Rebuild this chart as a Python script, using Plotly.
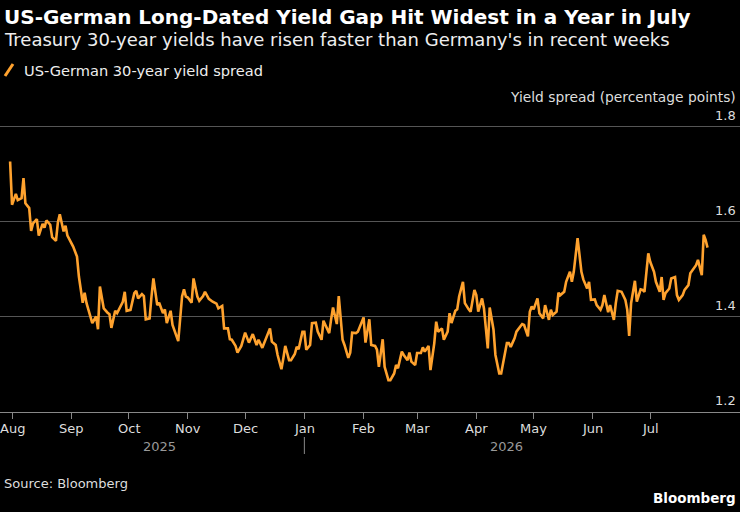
import plotly.graph_objects as go

# US-German 30-year yield spread, percentage points
dates = [
    "2025-07-31", "2025-08-01", "2025-08-03", "2025-08-04", "2025-08-06", "2025-08-07", "2025-08-08",
    "2025-08-10", "2025-08-11", "2025-08-12", "2025-08-14", "2025-08-15", "2025-08-17", "2025-08-18",
    "2025-08-19", "2025-08-21", "2025-08-22", "2025-08-24", "2025-08-25", "2025-08-26", "2025-08-28",
    "2025-08-29", "2025-08-30",
    "2025-09-02", "2025-09-04", "2025-09-05", "2025-09-07", "2025-09-08", "2025-09-09", "2025-09-11",
    "2025-09-12", "2025-09-14", "2025-09-15", "2025-09-16", "2025-09-18", "2025-09-20", "2025-09-21",
    "2025-09-22", "2025-09-24", "2025-09-25", "2025-09-27", "2025-09-28", "2025-09-29", "2025-09-30",
    "2025-10-02", "2025-10-04", "2025-10-05", "2025-10-06", "2025-10-08", "2025-10-09", "2025-10-10",
    "2025-10-12", "2025-10-13", "2025-10-14", "2025-10-16", "2025-10-17", "2025-10-19", "2025-10-20",
    "2025-10-21", "2025-10-23", "2025-10-24", "2025-10-27", "2025-10-29", "2025-10-30", "2025-10-31",
    "2025-11-01", "2025-11-03", "2025-11-04", "2025-11-06", "2025-11-07", "2025-11-09", "2025-11-10",
    "2025-11-12", "2025-11-13", "2025-11-14", "2025-11-16", "2025-11-17", "2025-11-19", "2025-11-20",
    "2025-11-22", "2025-11-23", "2025-11-24", "2025-11-26", "2025-11-27", "2025-11-29", "2025-11-30",
    "2025-12-01", "2025-12-03", "2025-12-04", "2025-12-05", "2025-12-07", "2025-12-08", "2025-12-10",
    "2025-12-12", "2025-12-14", "2025-12-15", "2025-12-17", "2025-12-18", "2025-12-20", "2025-12-21",
    "2025-12-22", "2025-12-24", "2025-12-25", "2025-12-27", "2025-12-28", "2025-12-29", "2025-12-31",
    "2026-01-01", "2026-01-02", "2026-01-04", "2026-01-05", "2026-01-07", "2026-01-08", "2026-01-10",
    "2026-01-11", "2026-01-12", "2026-01-14", "2026-01-15", "2026-01-16", "2026-01-18", "2026-01-19",
    "2026-01-21", "2026-01-22", "2026-01-24", "2026-01-25", "2026-01-26", "2026-01-28", "2026-01-29",
    "2026-01-30",
    "2026-02-01", "2026-02-02", "2026-02-04", "2026-02-05", "2026-02-07", "2026-02-08", "2026-02-09",
    "2026-02-11", "2026-02-12", "2026-02-14", "2026-02-15", "2026-02-17", "2026-02-18", "2026-02-19",
    "2026-02-21", "2026-02-22", "2026-02-24", "2026-02-25", "2026-02-26", "2026-02-28",
    "2026-03-01", "2026-03-03", "2026-03-04", "2026-03-05", "2026-03-07", "2026-03-08", "2026-03-10",
    "2026-03-11", "2026-03-12", "2026-03-14", "2026-03-15", "2026-03-17", "2026-03-18", "2026-03-19",
    "2026-03-21", "2026-03-22", "2026-03-23", "2026-03-25", "2026-03-26", "2026-03-28", "2026-03-29",
    "2026-03-31",
    "2026-04-01", "2026-04-02", "2026-04-04", "2026-04-05", "2026-04-07", "2026-04-08", "2026-04-10",
    "2026-04-11", "2026-04-13", "2026-04-14", "2026-04-15", "2026-04-17", "2026-04-18", "2026-04-19",
    "2026-04-21", "2026-04-22", "2026-04-24", "2026-04-25", "2026-04-26", "2026-04-28", "2026-04-29",
    "2026-04-30",
    "2026-05-01", "2026-05-03", "2026-05-04", "2026-05-06", "2026-05-07", "2026-05-09", "2026-05-10",
    "2026-05-11", "2026-05-13", "2026-05-14", "2026-05-15", "2026-05-17", "2026-05-18", "2026-05-20",
    "2026-05-21", "2026-05-22", "2026-05-24", "2026-05-26", "2026-05-27", "2026-05-29", "2026-05-30",
    "2026-05-31",
    "2026-06-02", "2026-06-03", "2026-06-05", "2026-06-06", "2026-06-07", "2026-06-09", "2026-06-10",
    "2026-06-12", "2026-06-13", "2026-06-14", "2026-06-16", "2026-06-18", "2026-06-19", "2026-06-20",
    "2026-06-21", "2026-06-23", "2026-06-24", "2026-06-26", "2026-06-27", "2026-06-28", "2026-06-30",
    "2026-07-01", "2026-07-03", "2026-07-04", "2026-07-06", "2026-07-07", "2026-07-08", "2026-07-09",
    "2026-07-11", "2026-07-12", "2026-07-14", "2026-07-15", "2026-07-16", "2026-07-18", "2026-07-19",
    "2026-07-21", "2026-07-22", "2026-07-23", "2026-07-25", "2026-07-26", "2026-07-28", "2026-07-29",
    "2026-07-30", "2026-07-31",
]

spread = [
    1.727, 1.636, 1.659, 1.646, 1.650, 1.692, 1.639, 1.629, 1.581, 1.597, 1.606, 1.571, 1.596, 1.588,
    1.603, 1.594, 1.568, 1.560, 1.599, 1.616, 1.580, 1.592, 1.571,
    1.548, 1.527, 1.485, 1.430, 1.451, 1.429, 1.401, 1.387, 1.401, 1.374, 1.464, 1.418, 1.409, 1.406,
    1.377, 1.413, 1.408, 1.422, 1.432, 1.453, 1.413,
    1.415, 1.450, 1.455, 1.439, 1.448, 1.444, 1.395, 1.397, 1.443, 1.481, 1.425, 1.430, 1.408, 1.416,
    1.387, 1.413, 1.383, 1.349, 1.443, 1.458, 1.443,
    1.441, 1.430, 1.481, 1.443, 1.434, 1.444, 1.453, 1.438, 1.434, 1.432, 1.428, 1.418, 1.423, 1.376,
    1.376, 1.353, 1.352, 1.339, 1.325, 1.339, 1.353,
    1.367, 1.346, 1.355, 1.364, 1.341, 1.352, 1.335, 1.357, 1.376, 1.348, 1.341, 1.320, 1.290, 1.313,
    1.339, 1.309, 1.309, 1.322, 1.337, 1.332, 1.369,
    1.369, 1.331, 1.341, 1.387, 1.388, 1.369, 1.352, 1.392, 1.383, 1.366, 1.395, 1.420, 1.385, 1.444,
    1.352, 1.341, 1.314, 1.325, 1.367, 1.366, 1.369, 1.380,
    1.399, 1.346, 1.395, 1.341, 1.339, 1.331, 1.295, 1.353, 1.295, 1.267, 1.267, 1.281, 1.299, 1.292,
    1.327, 1.320, 1.309, 1.325, 1.306, 1.299,
    1.324, 1.324, 1.336, 1.327, 1.339, 1.288, 1.345, 1.390, 1.369, 1.376, 1.352, 1.369, 1.408, 1.387,
    1.413, 1.416, 1.443, 1.474, 1.429, 1.416, 1.411, 1.457,
    1.446, 1.411, 1.439, 1.418, 1.334, 1.420, 1.373, 1.320, 1.281, 1.281, 1.303, 1.345, 1.345, 1.337,
    1.355, 1.369, 1.380, 1.385, 1.383, 1.359, 1.411, 1.422,
    1.416, 1.439, 1.408, 1.397, 1.425, 1.394, 1.415, 1.404, 1.411, 1.451, 1.446, 1.453, 1.474, 1.495,
    1.474, 1.495, 1.566, 1.495, 1.479, 1.460, 1.474, 1.436,
    1.437, 1.425, 1.415, 1.425, 1.446, 1.410, 1.425, 1.394, 1.429, 1.455, 1.453, 1.436, 1.415, 1.360,
    1.429, 1.476, 1.432, 1.458, 1.457, 1.453, 1.534,
    1.516, 1.495, 1.474, 1.453, 1.484, 1.436, 1.450, 1.460, 1.481, 1.484, 1.446, 1.436, 1.446, 1.457,
    1.467, 1.492, 1.497, 1.509, 1.520, 1.488, 1.573, 1.562, 1.546,
]

month_ticks = ["2025-08-01", "2025-09-01", "2025-10-01", "2025-11-01", "2025-12-01", "2026-01-01",
               "2026-02-01", "2026-03-01", "2026-04-01", "2026-05-01", "2026-06-01", "2026-07-01"]
month_labels = ["Aug", "Sep", "Oct", "Nov", "Dec", "Jan", "Feb", "Mar", "Apr", "May", "Jun", "Jul"]
years = ["2025", "2026"]
year_centers = ["2025-10-17", "2026-04-17"]
y_ticks = [1.2, 1.4, 1.6, 1.8]

ORANGE = "#FFA22E"
FONT = "DejaVu Sans"

fig = go.Figure()
fig.add_trace(go.Scatter(x=dates, y=spread, mode="lines",
                         line=dict(color=ORANGE, width=2.6),
                         name="US-German 30-year yield spread"))

fig.update_layout(
    width=740, height=512,
    margin=dict(l=0, r=0, t=124, b=100),
    paper_bgcolor="black", plot_bgcolor="black",
    showlegend=False,
    font=dict(family=FONT, color="#dddddd", size=13),
    xaxis=dict(
        type="date",
        range=["2025-07-25 17:00", "2026-08-17"],
        tickvals=month_ticks, showticklabels=False,
        ticks="outside", ticklen=6, tickcolor="#888888", tickwidth=1,
        showgrid=False, zeroline=False,
        showline=True, linecolor="#888888", linewidth=1,
    ),
    yaxis=dict(
        side="right",
        range=[1.2, 1.806],  # a little above 1.8 so the top gridline is drawn
        tickvals=y_ticks, showticklabels=False,
        showgrid=True, gridcolor="#555555", gridwidth=1,
        zeroline=False, showline=False, ticks="",
    ),
)


def py(pixel_y):
    # pixel row -> paper y (plot area spans rows 124..412)
    return (412 - pixel_y) / 288


# axis labels as annotations so the edge ones (Aug, 1.8) are not dropped
for m, lab in zip(month_ticks, month_labels):
    fig.add_annotation(text=lab, xref="x", yref="paper", x=m, y=py(428),
                       xanchor="center", yanchor="middle", showarrow=False,
                       font=dict(size=13, color="#dddddd"))
for v in y_ticks:
    fig.add_annotation(text=f"{v:.1f}", xref="paper", yref="y", x=0.997, y=v, yshift=2,
                       xanchor="right", yanchor="bottom", showarrow=False,
                       font=dict(size=13, color="#dddddd"))

fig.add_annotation(text="<b>US-German Long-Dated Yield Gap Hit Widest in a Year in July</b>",
                   xref="paper", yref="paper", x=0.003, y=py(17), xanchor="left", yanchor="middle",
                   showarrow=False, font=dict(size=20, color="white"))
fig.add_annotation(text="Treasury 30-year yields have risen faster than Germany's in recent weeks",
                   xref="paper", yref="paper", x=0.003, y=py(40), xanchor="left", yanchor="middle",
                   showarrow=False, font=dict(size=18, color="#eeeeee"))
fig.add_annotation(text="US-German 30-year yield spread",
                   xref="paper", yref="paper", x=22 / 740, y=py(70), xanchor="left", yanchor="middle",
                   showarrow=False, font=dict(size=14.6, color="#eeeeee"))
fig.add_shape(type="line", xref="paper", yref="paper",
              x0=5 / 740, y0=py(76), x1=13 / 740, y1=py(64),
              line=dict(color=ORANGE, width=3))
fig.add_annotation(text="Yield spread (percentage points)",
                   xref="paper", yref="paper", x=0.997, y=py(97), xanchor="right", yanchor="middle",
                   showarrow=False, font=dict(size=13.8, color="#dddddd"))

for yr, xc in zip(years, year_centers):
    fig.add_annotation(text=yr, xref="x", yref="paper", x=xc, y=py(446),
                       xanchor="center", yanchor="middle", showarrow=False,
                       font=dict(size=13, color="#999999"))
fig.add_shape(type="line", xref="x", yref="paper", x0="2026-01-01", x1="2026-01-01",
              y0=py(437), y1=py(454), line=dict(color="#888888", width=1))

fig.add_annotation(text="Source: Bloomberg", xref="paper", yref="paper", x=0.003, y=py(483),
                   xanchor="left", yanchor="middle", showarrow=False,
                   font=dict(size=13, color="#dddddd"))
fig.add_annotation(text="<b>Bloomberg</b>", xref="paper", yref="paper", x=0.997, y=py(498),
                   xanchor="right", yanchor="middle", showarrow=False,
                   font=dict(size=13.5, color="white"))

# the page is opened at exactly 740x512, so drop the default body margin
fig.write_html("out.html", config={"displayModeBar": False},
               post_script="document.body.style.margin='0';")
